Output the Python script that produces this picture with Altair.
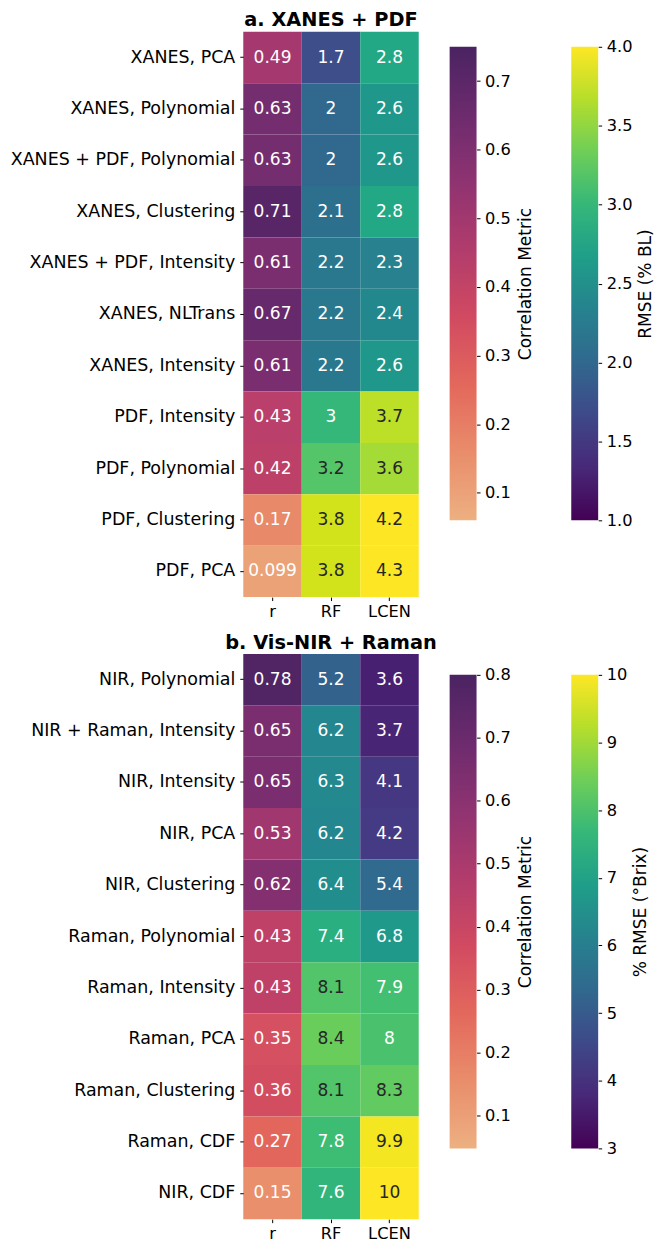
import altair as alt
import pandas as pd

metrics = ["r", "RF", "LCEN"]

labels_a = ["XANES, PCA", "XANES, Polynomial", "XANES + PDF, Polynomial", "XANES, Clustering",
            "XANES + PDF, Intensity", "XANES, NLTrans", "XANES, Intensity", "PDF, Intensity",
            "PDF, Polynomial", "PDF, Clustering", "PDF, PCA"]
r_a = [0.49, 0.63, 0.63, 0.71, 0.61, 0.67, 0.61, 0.43, 0.42, 0.17, 0.099]
rf_a = [1.7, 2, 2, 2.1, 2.2, 2.2, 2.2, 3, 3.2, 3.8, 3.8]
lcen_a = [2.8, 2.6, 2.6, 2.8, 2.3, 2.4, 2.6, 3.7, 3.6, 4.2, 4.3]

labels_b = ["NIR, Polynomial", "NIR + Raman, Intensity", "NIR, Intensity", "NIR, PCA",
            "NIR, Clustering", "Raman, Polynomial", "Raman, Intensity", "Raman, PCA",
            "Raman, Clustering", "Raman, CDF", "NIR, CDF"]
r_b = [0.78, 0.65, 0.65, 0.53, 0.62, 0.43, 0.43, 0.35, 0.36, 0.27, 0.15]
rf_b = [5.2, 6.2, 6.3, 6.2, 6.4, 7.4, 8.1, 8.4, 8.1, 7.8, 7.6]
lcen_b = [3.6, 3.7, 4.1, 4.2, 5.4, 6.8, 7.9, 8, 8.3, 9.9, 10]

r_ticks_a = [0.1, 0.2, 0.3, 0.4, 0.5, 0.6, 0.7]
v_ticks_a = [1.0, 1.5, 2.0, 2.5, 3.0, 3.5, 4.0]
r_ticks_b = [0.1, 0.2, 0.3, 0.4, 0.5, 0.6, 0.7, 0.8]
v_ticks_b = [3, 4, 5, 6, 7, 8, 9, 10]

flare_colors = ["#edb081", "#e98d6b", "#e3685c", "#d14a61", "#b13c6c", "#8f3371", "#6c2b6d", "#4b2362"]
viridis_colors = ["#440154", "#482878", "#3e4989", "#31688e", "#26828e",
                  "#1f9e89", "#35b779", "#6ece58", "#b5de2b", "#fde725"]

FONT = "DejaVu Sans"
FS = 17.1
FS_LAB = 17.5
FS_SMALL = 16.3
FS_TITLE = 19.4
PLOT_W, PLOT_H = 176, 567


def long_df(labels, r, rf, lcen):
    rows = []
    for lab, a, b, c in zip(labels, r, rf, lcen):
        rows.append({"row": lab, "metric": "r", "val": a})
        rows.append({"row": lab, "metric": "RF", "val": b})
        rows.append({"row": lab, "metric": "LCEN", "val": c})
    return pd.DataFrame(rows)


def stops_of(colors):
    n = len(colors) - 1
    return [alt.GradientStop(offset=i / n, color=c) for i, c in enumerate(colors)]


def colorbar(dom, colors, ticks, fmt, title, x0, top, pad):
    df = pd.DataFrame({"lo": [dom[0]], "hi": [dom[1]]})
    grad = alt.LinearGradient(gradient="linear", stops=stops_of(colors), x1=0, x2=0, y1=1, y2=0)
    return alt.Chart(df).mark_rect(color=grad).encode(
        x=alt.value(x0), x2=alt.value(x0 + 27),
        y=alt.Y("lo:Q", scale=alt.Scale(domain=dom, range=[top + 475, top], nice=False, zero=False),
                axis=alt.Axis(orient="right", offset=x0 + 27 - PLOT_W, values=ticks, format=fmt,
                              title=title, titleAngle=270, titleBaseline="top", titlePadding=pad,
                              titleFontWeight="normal", titleFont=FONT, titleFontSize=FS,
                              titleColor="black", labelFontSize=FS_SMALL,
                              grid=False, domain=False, tickSize=3.5, labelPadding=4.5,
                              labelFlush=False, labelOverlap=False, labelBaseline="middle")),
        y2="hi:Q",
    )


def panel(df, labels, title, r_dom, r_ticks, v_dom, v_ticks, v_fmt, v_title, top, v_pad):
    base = alt.Chart(df).encode(
        x=alt.X("metric:N", scale=alt.Scale(domain=metrics, paddingInner=0, paddingOuter=0),
                axis=alt.Axis(title=None, labelAngle=0, domain=False, tickSize=3.5, labelPadding=3,
                              labelFontSize=FS_SMALL)),
        y=alt.Y("row:N", scale=alt.Scale(domain=labels, paddingInner=0, paddingOuter=0),
                axis=alt.Axis(title=None, domain=False, tickSize=3.5, labelPadding=5,
                              labelLimit=400, labelFontSize=FS_LAB)),
    )
    n = len(flare_colors) - 1
    r_stops = [r_dom[0] + (r_dom[1] - r_dom[0]) * i / n for i in range(n + 1)]
    rect_r = base.transform_filter("datum.metric == 'r'").mark_rect().encode(
        color=alt.Color("val:Q", scale=alt.Scale(domain=r_stops, range=flare_colors, clamp=True),
                        legend=None))
    rect_v = base.transform_filter("datum.metric != 'r'").mark_rect().encode(
        color=alt.Color("val:Q", scale=alt.Scale(scheme="viridis", domain=v_dom, clamp=True),
                        legend=None))
    text = base.transform_calculate(
        norm=f"(datum.val - {v_dom[0]}) / {v_dom[1] - v_dom[0]}"
    ).mark_text(font=FONT, fontSize=FS).encode(
        text=alt.Text("val:Q", format=".2~g"),
        color=alt.condition("datum.metric != 'r' && datum.norm > 0.72",
                            alt.value("#262626"), alt.value("#ffffff")),
    )
    heat = alt.layer(rect_r, rect_v, text).resolve_scale(color="independent")
    cb_r = colorbar(r_dom, flare_colors, r_ticks, ".1f", "Correlation Metric", 207, top, 6)
    cb_v = colorbar(v_dom, viridis_colors, v_ticks, v_fmt, v_title, 329, top, v_pad)
    return alt.layer(heat, cb_r, cb_v).resolve_scale(
        color="independent", y="independent"
    ).resolve_axis(y="independent").properties(
        width=PLOT_W, height=PLOT_H,
        title=alt.TitleParams(title, font=FONT, fontSize=FS_TITLE, fontWeight="bold", color="black",
                              anchor="middle", frame="group", offset=1),
    )


pa = panel(long_df(labels_a, r_a, rf_a, lcen_a), labels_a, "a. XANES + PDF",
           [0.06, 0.75], r_ticks_a, [1, 4], v_ticks_a, ".1f", "RMSE (% BL)", 15, 5)
pb = panel(long_df(labels_b, r_b, rf_b, lcen_b), labels_b, "b. Vis-NIR + Raman",
           [0.048, 0.8], r_ticks_b, [3, 10], v_ticks_b, "d", "% RMSE (°Brix)", 21, 5)

chart = alt.vconcat(pa, pb, spacing=12).resolve_scale(color="independent").properties(
    padding={"left": 2, "top": 0, "right": 0, "bottom": 0}
).configure(font=FONT).configure_view(stroke=None).configure_axis(
    labelFont=FONT, labelColor="black", tickColor="black"
)

chart.save("out.html", embed_options={"renderer": "svg", "actions": False})
